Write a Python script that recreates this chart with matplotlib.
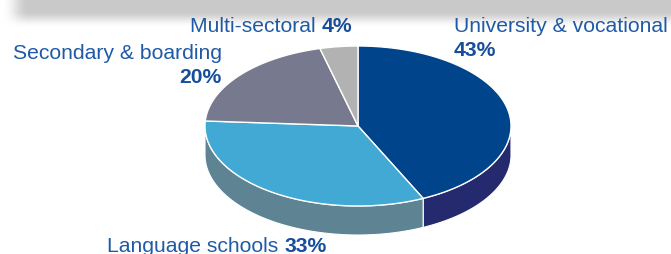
import numpy as np
import matplotlib
matplotlib.use("Agg")
import matplotlib.pyplot as plt
from matplotlib.patches import Polygon

# ---- data ----
categories = ["University & vocational", "Language schools", "Secondary & boarding", "Multi-sectoral"]
values = [43, 33, 20, 4]
top_colors = ["#00448B", "#41A9D3", "#777A8F", "#B2B2B2"]
side_colors = ["#252A6E", "#5E8493", "#5A5D70", "#8A8A8A"]

W, H = 671, 254
fig = plt.figure(figsize=(W / 100, H / 100), dpi=100)
ax = fig.add_axes([0, 0, 1, 1])
ax.set_xlim(0, W)
ax.set_ylim(H, 0)
ax.axis("off")

# ---- top grey shadow band ----
yy, xx = np.mgrid[0:40, 0:W]
fy = np.clip((27 - yy) / 17.0, 0, 1)
fy = fy * fy * (3 - 2 * fy)
fx = np.clip((xx - 2) / 26.0, 0, 1)
fx = fx * fx * (3 - 2 * fx)
dark = 0.21 * fy * fx
img = np.ones((40, W, 3)) * (1 - dark)[..., None]
ax.imshow(img, extent=(0, W, 40, 0), zorder=0, interpolation="bilinear")

# ---- 3D pie geometry ----
cx, cy, a, b, depth = 358, 126, 153, 80, 29


def pt(t):
    r = np.radians(t)
    return cx + a * np.cos(r), cy - b * np.sin(r)


total = float(sum(values))
start = 90.0
ranges = []
for v in values:
    sweep = 360.0 * v / total
    ranges.append((start - sweep, start))  # clockwise
    start -= sweep

# side walls (front half: 180..360 deg)
for (t1, t2), sc in zip(ranges, side_colors):
    for shift in (0, 360, -360):
        lo, hi = max(t1 + shift, 180), min(t2 + shift, 360)
        if hi > lo:
            ts = np.linspace(lo, hi, 100)
            top = [pt(t) for t in ts]
            bot = [(x, y + depth) for x, y in reversed(top)]
            ax.add_patch(Polygon(top + bot, closed=True, facecolor=sc,
                                 edgecolor="white", linewidth=0.8, zorder=2))

# top wedges
for (t1, t2), tc in zip(ranges, top_colors):
    ts = np.linspace(t1, t2, 200)
    verts = [(cx, cy)] + [pt(t) for t in ts]
    ax.add_patch(Polygon(verts, closed=True, facecolor=tc,
                         edgecolor="white", linewidth=1.0, zorder=3,
                         joinstyle="round"))

# ---- labels ----
fam = ["Liberation Sans", "DejaVu Sans"]
c_txt = "#1F5AA6"
c_bold = "#174E9C"
fs = 15.2

# Multi-sectoral
t_multi = ax.text(190, 31.5, categories[3] + " ", color=c_txt, fontsize=fs, family=fam,
                  ha="left", va="baseline", zorder=5)
ax.annotate(f"{values[3]}%", xy=(1, 0), xycoords=t_multi, va="bottom", ha="left",
            color=c_bold, fontsize=fs, family=fam, fontweight="bold", zorder=5)

# University
ax.text(454, 31.5, categories[0], color=c_txt, fontsize=fs, family=fam,
        ha="left", va="baseline", zorder=5)
ax.text(454, 56.5, f"{values[0]}%", color=c_bold, fontsize=fs, family=fam, fontweight="bold",
        ha="left", va="baseline", zorder=5)

# Secondary
ax.text(222, 59.3, categories[2], color=c_txt, fontsize=fs, family=fam,
        ha="right", va="baseline", zorder=5)
ax.text(222, 83.3, f"{values[2]}%", color=c_bold, fontsize=fs, family=fam, fontweight="bold",
        ha="right", va="baseline", zorder=5)

# Language
t_lang = ax.text(107, 251.7, categories[1] + " ", color=c_txt, fontsize=fs, family=fam,
                 ha="left", va="baseline", zorder=5)
ax.annotate(f"{values[1]}%", xy=(1, 0), xycoords=t_lang, va="bottom", ha="left",
            color=c_bold, fontsize=fs, family=fam, fontweight="bold", zorder=5)

fig.savefig("out.png", dpi=100)
